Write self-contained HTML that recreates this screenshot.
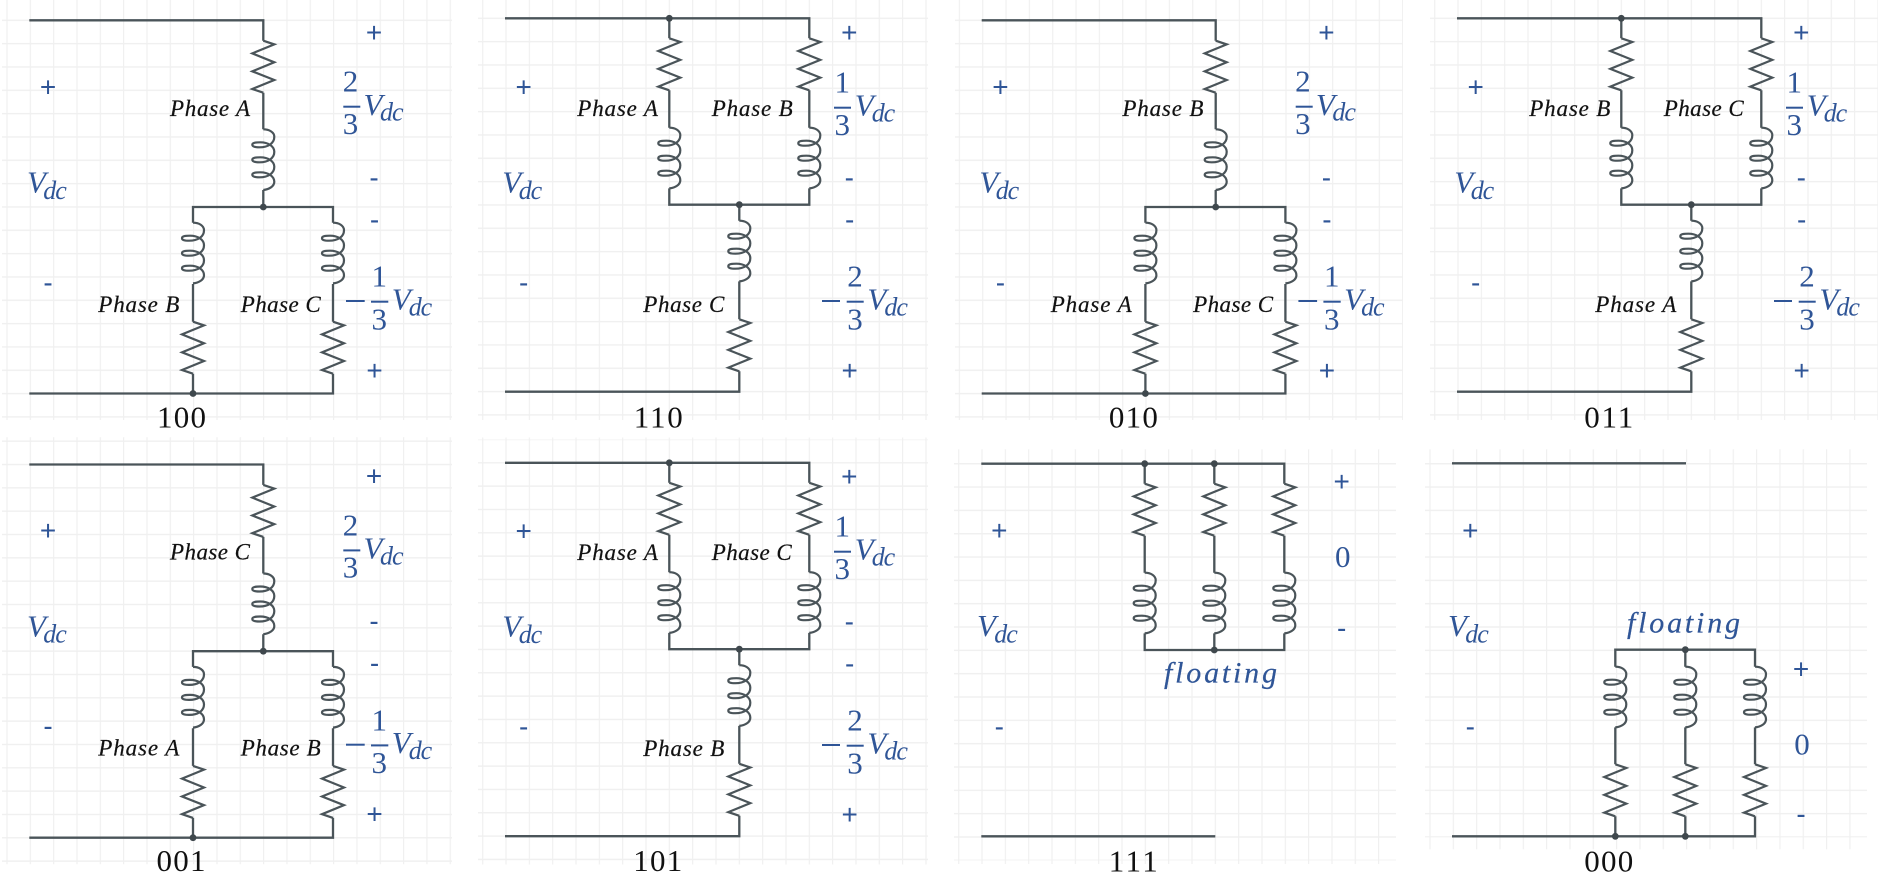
<!DOCTYPE html>
<html><head><meta charset="utf-8"><title>Switching states</title>
<style>
html,body{margin:0;padding:0;background:#fff;width:1878px;height:882px;overflow:hidden}
svg{display:block;filter:blur(.3px)}
text{font-family:"Liberation Serif",serif}
.p{font-size:23px;font-style:italic;fill:#111;stroke:#111;stroke-width:.2}
.v{font-size:31px;font-style:italic;fill:#2f5597;transform:translateX(-2px)}
.s{font-size:26px;font-style:italic;fill:#2f5597}
.d{font-size:31px;fill:#2f5597;text-anchor:middle}
.m{font-family:"Liberation Sans",sans-serif;font-size:28px;fill:#2f5597;text-anchor:middle}
.n{font-size:31px;fill:#111;text-anchor:middle}
.f{font-size:30px;font-style:italic;fill:#2f5597;stroke:#2f5597;stroke-width:.2}
.b{fill:#2f5597}
.w{fill:none;stroke:#4a5459;stroke-width:2.3;stroke-linejoin:miter}
.c{fill:none;stroke:#4a5459;stroke-width:2.2}
.o{fill:#3f484d}
</style></head><body>
<svg width="1878" height="882" viewBox="0 0 1878 882" xmlns="http://www.w3.org/2000/svg">
<defs>
<pattern id="gv" patternUnits="userSpaceOnUse" x="6.4" y="0" width="23.33" height="23.33"><rect width="1.2" height="23.33" fill="#f0f0f0"/></pattern>
<pattern id="ha" patternUnits="userSpaceOnUse" x="0" y="19.6" width="23.33" height="23.33"><rect width="23.33" height="1.4" fill="#f0f0f0"/></pattern>
<pattern id="hb" patternUnits="userSpaceOnUse" x="0" y="17.6" width="23.33" height="23.33"><rect width="23.33" height="1.4" fill="#f0f0f0"/></pattern>
<path id="R" class="c" d="M0 0L11 3.7L-11 12.7L11 21.6L-11 30.6L11 39.3L-11 48.3L0 52"/>
<path id="L" class="c" d="M0 0C6 0 11 3 11 7.5C11 14 5 18 -4 18C-9 18 -11 17 -11 15.5C-11 13.5 -8 13 -3 13C5 13 11 17 11 22.5C11 29 5 33 -4 33C-9 33 -11 32 -11 30.5C-11 28.5 -8 28 -3 28C5 28 11 32 11 37.5C11 44 5 48 -4 48C-9 48 -11 47 -11 45.5C-11 43.5 -8 43 -3 43C5 43 11 47 11 52.5C11 57 6 60 0 60.7"/>
<g id="circA">
<path class="w" d="M29.3 20.3H263.3V40.7M263.3 92.7V129.3M263.3 190V207M193 222.7V207H333V222.7M193 284V321.7M333 284V321.7M193 373.7V393.5M29.3 393.5H333V373.7"/>
<use href="#R" x="263.3" y="40.7"/><use href="#L" x="263.3" y="129.3"/>
<use href="#L" x="193" y="222.7"/><use href="#L" x="333" y="222.7"/>
<use href="#R" x="193" y="321.7"/><use href="#R" x="333" y="321.7"/>
<circle class="o" cx="263.3" cy="207" r="3.4"/><circle class="o" cx="193" cy="393.5" r="3.4"/>
</g>
<g id="circB">
<path class="w" d="M29.3 18.3H333.6V38.3M193.6 18.3V38.3M193.6 90.3V127.7M333.6 90.3V127.7M193.6 188.4V204.7H333.6V188.4M263.6 204.7V220.7M263.6 281.4V319.3M263.6 371.3V391.7H29.3"/>
<use href="#R" x="193.6" y="38.3"/><use href="#R" x="333.6" y="38.3"/>
<use href="#L" x="193.6" y="127.7"/><use href="#L" x="333.6" y="127.7"/>
<use href="#L" x="263.6" y="220.7"/><use href="#R" x="263.6" y="319.3"/>
<circle class="o" cx="193.6" cy="18.3" r="3.4"/><circle class="o" cx="263.6" cy="204.7" r="3.4"/>
</g>
</defs>
<rect width="1878" height="882" fill="#fff"/>

<!-- 100 -->
<g transform="translate(0,0)">
<rect x="2" y="0" width="450" height="420" fill="url(#gv)"/><rect x="2" y="19" width="450" height="399" fill="url(#ha)"/>
<use href="#circA"/>
<text class="p" x="170" y="116" textLength="80">Phase A</text>
<text class="p" x="98.3" y="312" textLength="81">Phase B</text>
<text class="p" x="240.7" y="312" textLength="80">Phase C</text>
<text class="m" x="48" y="96.5">+</text><text class="m" x="48" y="292">-</text>
<text class="v" x="29" y="192.7">V</text><text class="s" x="43.3" y="199" textLength="23.5">dc</text>
<text class="m" x="374" y="42">+</text><text class="m" x="374" y="187">-</text><text class="m" x="374.5" y="229">-</text><text class="m" x="374.5" y="380">+</text>
<text class="d" x="350.5" y="91.7">2</text><rect class="b" x="343.3" y="105.7" width="17" height="2"/><text class="d" x="350.5" y="134">3</text>
<text class="v" x="365.5" y="115">V</text><text class="s" x="380" y="120.7" textLength="23.5">dc</text>
<rect class="b" x="346" y="300" width="18.7" height="2"/>
<text class="d" x="379.3" y="286.7">1</text><rect class="b" x="371" y="300.7" width="17.3" height="2"/><text class="d" x="379.3" y="329.3">3</text>
<text class="v" x="393.7" y="309.3">V</text><text class="s" x="408.7" y="315.3" textLength="23.5">dc</text>
<text class="n" x="181.5" y="427.7" textLength="49">100</text>
</g>

<!-- 010 -->
<g transform="translate(952.4,0)">
<rect x="2.6" y="0" width="448" height="420" fill="url(#gv)"/><rect x="2.6" y="19" width="448" height="399" fill="url(#ha)"/>
<use href="#circA"/>
<text class="p" x="170" y="116" textLength="81">Phase B</text>
<text class="p" x="98.3" y="312" textLength="81">Phase A</text>
<text class="p" x="240.7" y="312" textLength="80">Phase C</text>
<text class="m" x="48" y="96.5">+</text><text class="m" x="48" y="292">-</text>
<text class="v" x="29" y="192.7">V</text><text class="s" x="43.3" y="199" textLength="23.5">dc</text>
<text class="m" x="374" y="42">+</text><text class="m" x="374" y="187">-</text><text class="m" x="374.5" y="229">-</text><text class="m" x="374.5" y="380">+</text>
<text class="d" x="350.5" y="91.7">2</text><rect class="b" x="343.3" y="105.7" width="17" height="2"/><text class="d" x="350.5" y="134">3</text>
<text class="v" x="365.5" y="115">V</text><text class="s" x="380" y="120.7" textLength="23.5">dc</text>
<rect class="b" x="346" y="300" width="18.7" height="2"/>
<text class="d" x="379.3" y="286.7">1</text><rect class="b" x="371" y="300.7" width="17.3" height="2"/><text class="d" x="379.3" y="329.3">3</text>
<text class="v" x="393.7" y="309.3">V</text><text class="s" x="408.7" y="315.3" textLength="23.5">dc</text>
<text class="n" x="181" y="427.7" textLength="49">010</text>
</g>

<!-- 110 -->
<g transform="translate(475.7,0)">
<rect x="2.3" y="0" width="450" height="420" fill="url(#gv)"/><rect x="2.3" y="17" width="450" height="400" fill="url(#hb)"/>
<use href="#circB"/>
<text class="p" x="101.6" y="116" textLength="80.7">Phase A</text>
<text class="p" x="236" y="116" textLength="81">Phase B</text>
<text class="p" x="167.6" y="312" textLength="81">Phase C</text>
<text class="m" x="48" y="96.5">+</text><text class="m" x="48" y="292">-</text>
<text class="v" x="28.6" y="192.7">V</text><text class="s" x="43" y="199" textLength="23.5">dc</text>
<text class="m" x="373.6" y="42">+</text><text class="m" x="373.6" y="187">-</text><text class="m" x="374" y="229">-</text><text class="m" x="374" y="380">+</text>
<text class="d" x="366.6" y="92.7">1</text><rect class="b" x="358.3" y="106.7" width="17" height="2"/><text class="d" x="366.6" y="135">3</text>
<text class="v" x="381" y="115.7">V</text><text class="s" x="396" y="121.3" textLength="23.5">dc</text>
<rect class="b" x="346.3" y="300" width="18" height="2"/>
<text class="d" x="379.3" y="286.7">2</text><rect class="b" x="371" y="300.7" width="17" height="2"/><text class="d" x="379.3" y="329.3">3</text>
<text class="v" x="393.7" y="309.3">V</text><text class="s" x="408.7" y="315.3" textLength="23.5">dc</text>
<text class="n" x="182.6" y="427.7" textLength="49">110</text>
</g>

<!-- 011 -->
<g transform="translate(1427.7,0)">
<rect x="2.3" y="0" width="450.3" height="420" fill="url(#gv)"/><rect x="2.3" y="17" width="450.3" height="400" fill="url(#hb)"/>
<use href="#circB"/>
<text class="p" x="101.6" y="116" textLength="81">Phase B</text>
<text class="p" x="236" y="116" textLength="80">Phase C</text>
<text class="p" x="167.6" y="312" textLength="81">Phase A</text>
<text class="m" x="48" y="96.5">+</text><text class="m" x="48" y="292">-</text>
<text class="v" x="28.6" y="192.7">V</text><text class="s" x="43" y="199" textLength="23.5">dc</text>
<text class="m" x="373.6" y="42">+</text><text class="m" x="373.6" y="187">-</text><text class="m" x="374" y="229">-</text><text class="m" x="374" y="380">+</text>
<text class="d" x="366.6" y="92.7">1</text><rect class="b" x="358.3" y="106.7" width="17" height="2"/><text class="d" x="366.6" y="135">3</text>
<text class="v" x="381" y="115.7">V</text><text class="s" x="396" y="121.3" textLength="23.5">dc</text>
<rect class="b" x="346.3" y="300" width="18" height="2"/>
<text class="d" x="379.3" y="286.7">2</text><rect class="b" x="371" y="300.7" width="17" height="2"/><text class="d" x="379.3" y="329.3">3</text>
<text class="v" x="393.7" y="309.3">V</text><text class="s" x="408.7" y="315.3" textLength="23.5">dc</text>
<text class="n" x="181" y="427.7" textLength="49">011</text>
</g>

<!-- 001 -->
<g transform="translate(0,444.2)">
<rect x="2" y="-7" width="450" height="427" fill="url(#gv)"/><rect x="2" y="-4" width="450" height="422" fill="url(#ha)"/>
<use href="#circA"/>
<text class="p" x="170" y="115.5" textLength="80">Phase C</text>
<text class="p" x="98.3" y="311.5" textLength="81">Phase A</text>
<text class="p" x="240.7" y="311.5" textLength="80">Phase B</text>
<text class="m" x="48" y="96">+</text><text class="m" x="48" y="291.5">-</text>
<text class="v" x="29" y="192.2">V</text><text class="s" x="43.3" y="198.5" textLength="23.5">dc</text>
<text class="m" x="374" y="41.5">+</text><text class="m" x="374" y="186.5">-</text><text class="m" x="374.5" y="228.5">-</text><text class="m" x="374.5" y="379.5">+</text>
<text class="d" x="350.5" y="91.2">2</text><rect class="b" x="343.3" y="105.2" width="17" height="2"/><text class="d" x="350.5" y="133.5">3</text>
<text class="v" x="365.5" y="114.5">V</text><text class="s" x="380" y="120.2" textLength="23.5">dc</text>
<rect class="b" x="346" y="299.5" width="18.7" height="2"/>
<text class="d" x="379.3" y="286.2">1</text><rect class="b" x="371" y="300.2" width="17.3" height="2"/><text class="d" x="379.3" y="328.8">3</text>
<text class="v" x="393.7" y="308.8">V</text><text class="s" x="408.7" y="314.8" textLength="23.5">dc</text>
<text class="n" x="181" y="427" textLength="49">001</text>
</g>

<!-- 101 -->
<g transform="translate(475.7,444.5)">
<rect x="2.3" y="-7" width="450" height="427" fill="url(#gv)"/><rect x="2.3" y="-5" width="450" height="423" fill="url(#hb)"/>
<use href="#circB"/>
<text class="p" x="101.6" y="115.5" textLength="80.7">Phase A</text>
<text class="p" x="236" y="115.5" textLength="80">Phase C</text>
<text class="p" x="167.6" y="311.5" textLength="81">Phase B</text>
<text class="m" x="48" y="96">+</text><text class="m" x="48" y="291.5">-</text>
<text class="v" x="28.6" y="192.2">V</text><text class="s" x="43" y="198.5" textLength="23.5">dc</text>
<text class="m" x="373.6" y="41.5">+</text><text class="m" x="373.6" y="186.5">-</text><text class="m" x="374" y="228.5">-</text><text class="m" x="374" y="379.5">+</text>
<text class="d" x="366.6" y="92.2">1</text><rect class="b" x="358.3" y="106.2" width="17" height="2"/><text class="d" x="366.6" y="134.5">3</text>
<text class="v" x="381" y="115.2">V</text><text class="s" x="396" y="120.8" textLength="23.5">dc</text>
<rect class="b" x="346.3" y="299.5" width="18" height="2"/>
<text class="d" x="379.3" y="286.2">2</text><rect class="b" x="371" y="300.2" width="17" height="2"/><text class="d" x="379.3" y="328.8">3</text>
<text class="v" x="393.7" y="308.8">V</text><text class="s" x="408.7" y="314.8" textLength="23.5">dc</text>
<text class="n" x="182" y="426.5" textLength="49">101</text>
</g>

<!-- 111 -->
<g transform="translate(951.7,443.4)">
<rect x="2.3" y="5.9" width="442" height="414.7" fill="url(#gv)"/><rect x="2.3" y="19" width="442" height="398" fill="url(#ha)"/>
<text class="m" x="47.6" y="96.5">+</text><text class="m" x="47.6" y="292.5">-</text>
<text class="v" x="27.3" y="192.7">V</text><text class="s" x="42.6" y="199" textLength="23.5">dc</text>
<text class="m" x="390" y="47.5">+</text><text class="d" x="391" y="123.6">0</text><text class="m" x="390" y="194">-</text>
<text class="f" x="212.3" y="239.3" textLength="113">floating</text>
<text class="n" x="181.6" y="428.3" textLength="49">111</text>
</g>
<path class="w" d="M981.3 463.7H1284.3V483.7M1144.7 463.7V483.7M1214.3 463.7V483.7M1144.7 535.7V572.7M1214.3 535.7V572.7M1284.3 535.7V572.7M1144.7 633.4V650H1284.3V633.4M1214.3 633.4V650M981.3 836.3H1215.3"/>
<use href="#R" x="1144.7" y="483.7"/><use href="#R" x="1214.3" y="483.7"/><use href="#R" x="1284.3" y="483.7"/>
<use href="#L" x="1144.7" y="572.7"/><use href="#L" x="1214.3" y="572.7"/><use href="#L" x="1284.3" y="572.7"/>
<circle class="o" cx="1144.7" cy="463.7" r="3.4"/><circle class="o" cx="1214.3" cy="463.7" r="3.4"/><circle class="o" cx="1214.3" cy="650" r="3.4"/>

<!-- 000 -->
<g transform="translate(1423,443.4)">
<rect x="2" y="5.9" width="442" height="400" fill="url(#gv)"/><rect x="2" y="19" width="442" height="375" fill="url(#ha)"/>
<text class="m" x="47.3" y="96.5">+</text><text class="m" x="47.3" y="292.5">-</text>
<text class="v" x="27" y="192.7">V</text><text class="s" x="42.3" y="199" textLength="23.5">dc</text>
<text class="m" x="378" y="234.9">+</text><text class="d" x="379" y="310.9">0</text><text class="m" x="378" y="380.3">-</text>
<text class="f" x="204" y="189.3" textLength="113">floating</text>
<text class="n" x="185.7" y="428.3" textLength="49">000</text>
</g>
<path class="w" d="M1452 463.3H1686M1615.3 666.7V649.7H1755V666.7M1685.3 649.7V666.7M1615.3 727.4V764.3M1685.3 727.4V764.3M1755 727.4V764.3M1615.3 816.3V836.3M1685.3 816.3V836.3M1452 836.3H1755V816.3"/>
<use href="#L" x="1615.3" y="666.7"/><use href="#L" x="1685.3" y="666.7"/><use href="#L" x="1755" y="666.7"/>
<use href="#R" x="1615.3" y="764.3"/><use href="#R" x="1685.3" y="764.3"/><use href="#R" x="1755" y="764.3"/>
<circle class="o" cx="1685.3" cy="649.7" r="3.4"/><circle class="o" cx="1615.3" cy="836.3" r="3.4"/><circle class="o" cx="1685.3" cy="836.3" r="3.4"/>
</svg>
</body></html>
